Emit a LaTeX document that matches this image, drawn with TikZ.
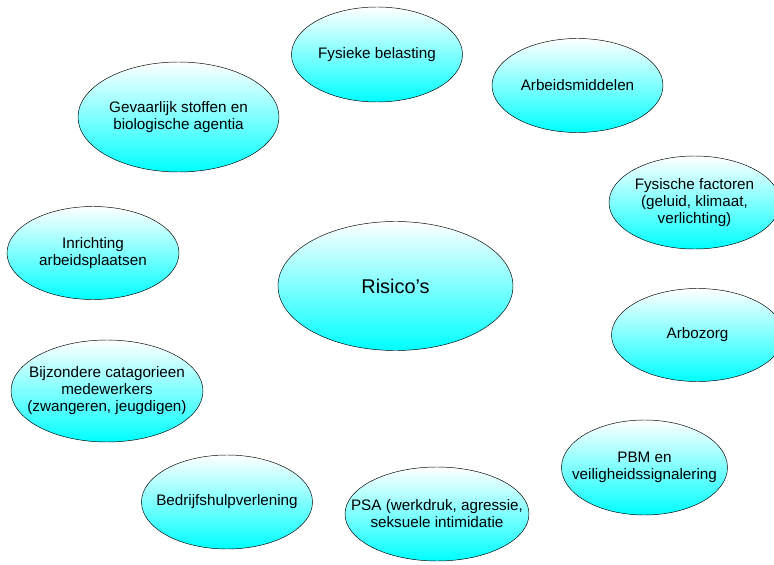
\documentclass[tikz,border=0pt]{standalone}
\usepackage{fontspec}
\setmainfont{Liberation Sans}
\usetikzlibrary{shapes.geometric}
\tikzset{
  risk/.style 2 args={ellipse, draw=black, thin, top color=white, bottom color=cyan,
    align=center, inner sep=-2cm, font=\fontsize{13}{14.5}\selectfont,
    minimum width=#1*0.03cm, minimum height=#2*0.03cm}
}
\begin{document}
\begin{tikzpicture}[x=0.03cm,y=-0.03cm]
\useasboundingbox (0,0) rectangle (774,565);
\node[risk={235}{129}, font=\fontsize{17}{20}\selectfont] (risicos) at (395.5,286) {Risico's};
\node[risk={171}{95}] (fysiek) at (377,54.5) {Fysieke belasting};
\node[risk={171}{94}] (middelen) at (577.5,85.5) {Arbeidsmiddelen};
\node[risk={201}{110}] (stoffen) at (178.5,117) {Gevaarlijk stoffen en\\biologische agentia};
\node[risk={171}{93}] (factoren) at (694.5,202.5) {Fysische factoren\\(geluid, klimaat,\\verlichting)};
\node[risk={172}{93}] (inrichting) at (93,253) {Inrichting\\arbeidsplaatsen};
\node[risk={172}{93}] (arbozorg) at (697.5,335) {Arbozorg};
\node[risk={192}{102}] (bijzonder) at (107,391) {Bijzondere catagorieen\\medewerkers\\(zwangeren, jeugdigen)};
\node[risk={166}{95}] (pbm) at (644.5,467.5) {PBM en\\veiligheidssignalering};
\node[risk={171}{94}] (bhv) at (227,502) {Bedrijfshulpverlening};
\node[risk={184}{94}] (psa) at (437,514) {PSA (werkdruk, agressie,\\seksuele intimidatie};
\end{tikzpicture}
\end{document}
